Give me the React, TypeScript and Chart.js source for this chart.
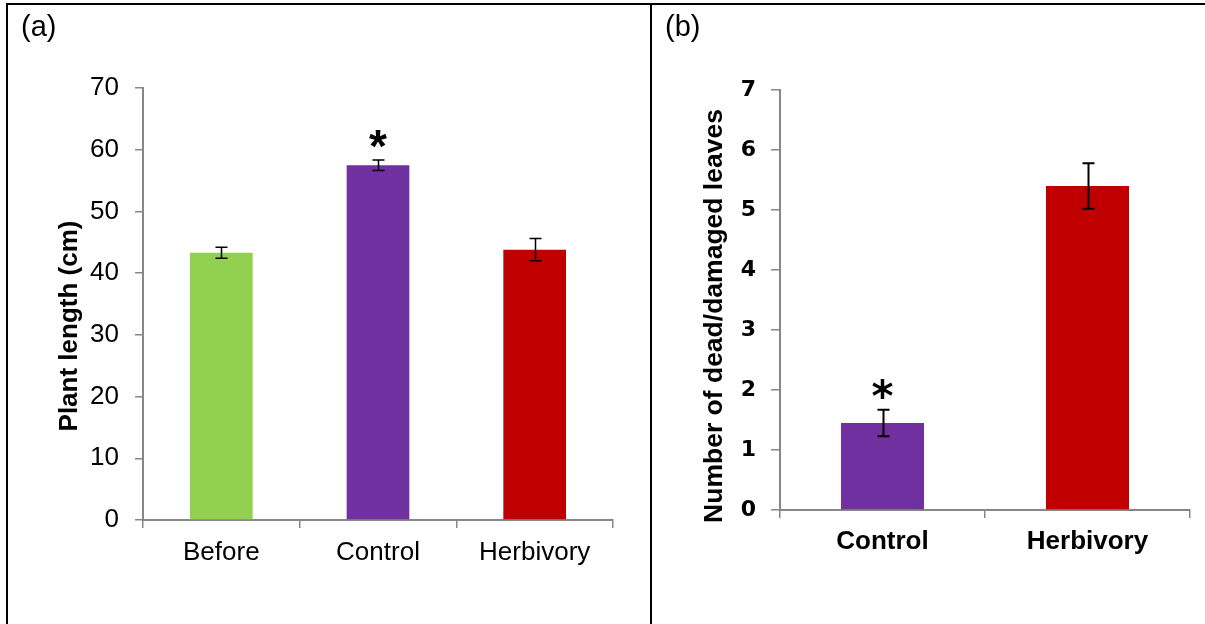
import React, { useEffect, useRef } from "react";
import { Chart, registerables } from "chart.js";

Chart.register(...registerables);

// ---------- Panel (a) data ----------
const catsA = ["Before", "Control", "Herbivory"];
const valsA = [43.3, 57.5, 43.8];
const errA = [0.9, 0.85, 1.8];
const sigA = [false, true, false];
const colorsA = ["#92D050", "#7030A0", "#C00000"];
const yMinA = 0;
const yMaxA = 70;
const yStepA = 10;
const titleA = "Plant length (cm)";
const panelLabelA = "(a)";

// ---------- Panel (b) data ----------
const catsB = ["Control", "Herbivory"];
const valsB = [1.45, 5.4];
const errB = [0.22, 0.38];
const sigB = [true, false];
const colorsB = ["#7030A0", "#C00000"];
const yMinB = 0;
const yMaxB = 7;
const yStepB = 1;
const titleB = "Number of dead/damaged leaves";
const panelLabelB = "(b)";

const ARIAL = '"Liberation Sans", Arial, Helvetica, sans-serif';
const VERDANA = '"DejaVu Sans", Verdana, sans-serif';
const AXIS_GREY = "#878787";

type OverlayOpts = {
  err: number[];
  sig: boolean[];
  errWidth: number;
  capHalf: number;
  starFont: string;
  starGap: number;
  panel: string;
  panelFont: string;
  panelX: number;
  panelY: number;
  title: string;
  titleFont: string;
  titleX: number;
  titleY: number;
};

function makeOverlay(o: OverlayOpts) {
  return {
    id: "overlay",
    afterDatasetsDraw(chart: any) {
      const ctx = chart.ctx as CanvasRenderingContext2D;
      const meta = chart.getDatasetMeta(0);
      const ys = chart.scales.y;
      const vals = chart.data.datasets[0].data as number[];
      ctx.save();
      meta.data.forEach((bar: any, i: number) => {
        const x = Math.round(bar.x) + 0.5;
        const top = ys.getPixelForValue(vals[i] + o.err[i]);
        const bot = ys.getPixelForValue(vals[i] - o.err[i]);
        ctx.strokeStyle = "#000";
        ctx.lineWidth = o.errWidth;
        ctx.beginPath();
        ctx.moveTo(x, top);
        ctx.lineTo(x, bot);
        ctx.moveTo(x - o.capHalf, top);
        ctx.lineTo(x + o.capHalf, top);
        ctx.moveTo(x - o.capHalf, bot);
        ctx.lineTo(x + o.capHalf, bot);
        ctx.stroke();
        if (o.sig[i]) {
          ctx.font = o.starFont;
          ctx.fillStyle = "#000";
          ctx.textAlign = "center";
          ctx.textBaseline = "alphabetic";
          const m = ctx.measureText("*");
          const center = top - o.starGap;
          const base =
            center + (m.actualBoundingBoxAscent - m.actualBoundingBoxDescent) / 2;
          ctx.fillText("*", bar.x, base);
        }
      });
      ctx.restore();
    },
    afterDraw(chart: any) {
      const ctx = chart.ctx as CanvasRenderingContext2D;
      ctx.save();
      ctx.fillStyle = "#000";
      ctx.font = o.panelFont;
      ctx.textAlign = "left";
      ctx.textBaseline = "alphabetic";
      ctx.fillText(o.panel, o.panelX, o.panelY);
      ctx.translate(o.titleX, o.titleY);
      ctx.rotate(-Math.PI / 2);
      ctx.font = o.titleFont;
      ctx.textAlign = "center";
      ctx.textBaseline = "alphabetic";
      ctx.fillText(o.title, 0, 0);
      ctx.restore();
    },
  };
}

type PanelProps = {
  left: number;
  top: number;
  width: number;
  height: number;
  cats: string[];
  vals: number[];
  colors: string[];
  yMin: number;
  yMax: number;
  yStep: number;
  yAxisWidth: number;
  xAxisHeight: number;
  padTop: number;
  padRight: number;
  barPct: number;
  yTickFont: any;
  yTickPad: number;
  yTickLen: number;
  xTickFont: any;
  xTickPad: number;
  overlay: OverlayOpts;
};

function BarPanel(p: PanelProps) {
  const ref = useRef<HTMLCanvasElement>(null);
  useEffect(() => {
    const chart = new Chart(ref.current as HTMLCanvasElement, {
      type: "bar",
      data: {
        labels: p.cats,
        datasets: [
          {
            data: p.vals,
            backgroundColor: p.colors,
            borderWidth: 0,
            barPercentage: p.barPct,
            categoryPercentage: 1,
          },
        ],
      },
      options: {
        animation: false,
        responsive: false,
        devicePixelRatio: 1,
        layout: {
          padding: { top: p.padTop, right: p.padRight, left: 0, bottom: 0 },
        },
        plugins: {
          legend: { display: false },
          tooltip: { enabled: false },
          title: { display: false },
        },
        scales: {
          x: {
            grid: {
              display: true,
              offset: true,
              drawOnChartArea: false,
              drawTicks: true,
              tickLength: 8,
              color: AXIS_GREY,
              lineWidth: 1.5,
            },
            border: { display: true, color: AXIS_GREY, width: 2 },
            ticks: {
              color: "#000",
              font: p.xTickFont,
              padding: p.xTickPad,
              maxRotation: 0,
              autoSkip: false,
            },
            afterFit: (s: any) => {
              s.height = p.xAxisHeight;
            },
          },
          y: {
            min: p.yMin,
            max: p.yMax,
            grid: {
              display: true,
              drawOnChartArea: false,
              drawTicks: true,
              tickLength: p.yTickLen,
              color: AXIS_GREY,
              lineWidth: 1.5,
            },
            border: { display: true, color: AXIS_GREY, width: 2 },
            ticks: {
              stepSize: p.yStep,
              color: "#000",
              font: p.yTickFont,
              padding: p.yTickPad,
            },
            afterFit: (s: any) => {
              s.width = p.yAxisWidth;
            },
          },
        },
      },
      plugins: [makeOverlay(p.overlay)],
    } as any);
    return () => chart.destroy();
  }, []);
  return (
    <canvas
      ref={ref}
      width={p.width}
      height={p.height}
      style={{
        position: "absolute",
        left: p.left,
        top: p.top,
        width: p.width,
        height: p.height,
      }}
    />
  );
}

export default function App() {
  return (
    <div
      style={{
        position: "fixed",
        left: 0,
        top: 0,
        width: 1205,
        height: 624,
        background: "#fff",
        overflow: "hidden",
      }}
    >
      <BarPanel
        left={8}
        top={5}
        width={642}
        height={619}
        cats={catsA}
        vals={valsA}
        colors={colorsA}
        yMin={yMinA}
        yMax={yMaxA}
        yStep={yStepA}
        yAxisWidth={135}
        xAxisHeight={104}
        padTop={83}
        padRight={37}
        barPct={0.4}
        yTickFont={{ family: ARIAL, size: 26 }}
        yTickPad={16}
        yTickLen={8}
        xTickFont={{ family: ARIAL, size: 26 }}
        xTickPad={9}
        overlay={{
          err: errA,
          sig: sigA,
          errWidth: 1.5,
          capHalf: 6,
          starFont: `bold 46px ${ARIAL}`,
          starGap: 20.5,
          panel: panelLabelA,
          panelFont: `29px ${ARIAL}`,
          panelX: 13,
          panelY: 31,
          title: titleA,
          titleFont: `bold 26px ${ARIAL}`,
          titleX: 69,
          titleY: 321,
        }}
      />
      <BarPanel
        left={652}
        top={5}
        width={553}
        height={619}
        cats={catsB}
        vals={valsB}
        colors={colorsB}
        yMin={yMinB}
        yMax={yMaxB}
        yStep={yStepB}
        yAxisWidth={128}
        xAxisHeight={114}
        padTop={85}
        padRight={15}
        barPct={0.405}
        yTickFont={{ family: VERDANA, size: 22, weight: "bold" }}
        yTickPad={15}
        yTickLen={9}
        xTickFont={{ family: ARIAL, size: 26, weight: "bold" }}
        xTickPad={8}
        overlay={{
          err: errB,
          sig: sigB,
          errWidth: 2,
          capHalf: 6,
          starFont: `bold 42px ${VERDANA}`,
          starGap: 21,
          panel: panelLabelB,
          panelFont: `29px ${ARIAL}`,
          panelX: 13,
          panelY: 31,
          title: titleB,
          titleFont: `bold 26.5px ${ARIAL}`,
          titleX: 70,
          titleY: 311,
        }}
      />
      <div style={{ position: "absolute", left: 6, top: 3, width: 1199, height: 2, background: "#000" }} />
      <div style={{ position: "absolute", left: 6, top: 3, width: 2, height: 621, background: "#000" }} />
      <div style={{ position: "absolute", left: 650, top: 3, width: 2, height: 621, background: "#000" }} />
    </div>
  );
}
